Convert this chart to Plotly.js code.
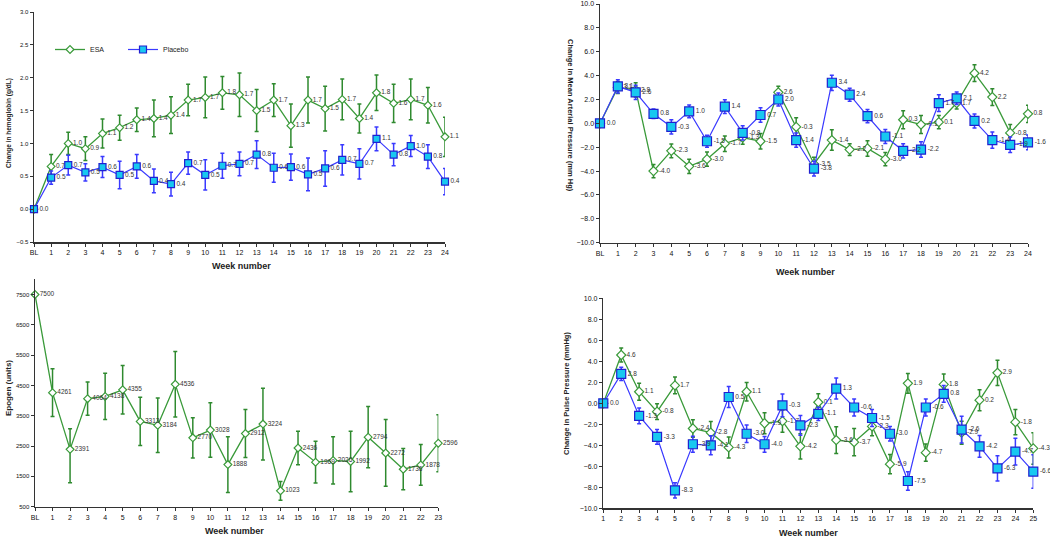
<!DOCTYPE html>
<html>
<head>
<meta charset="utf-8">
<script src="https://cdn.plot.ly/plotly-3.0.1.min.js"></script>
<style>html,body{margin:0;padding:0;background:#fff;}#chart{width:1050px;height:538px;}</style>
</head>
<body>
<div id="chart"></div>
<script>
// ---------- Hemoglobin panel ----------
const hbWeeks = [0,1,2,3,4,5,6,7,8,9,10,11,12,13,14,15,16,17,18,19,20,21,22,23,24];
const hbTickText = ['BL','1','2','3','4','5','6','7','8','9','10','11','12','13','14','15','16','17','18','19','20','21','22','23','24'];
const hbEsa = [0.00,0.65,1.00,0.92,1.15,1.24,1.36,1.38,1.43,1.66,1.70,1.77,1.74,1.50,1.66,1.27,1.66,1.53,1.67,1.38,1.77,1.61,1.67,1.58,1.10];
const hbEsaErr = [0,0.18,0.17,0.18,0.22,0.19,0.18,0.28,0.28,0.24,0.31,0.25,0.33,0.32,0.25,0.33,0.35,0.34,0.31,0.22,0.27,0.29,0.31,0.27,0.30];
const hbEsaLbl = ['','0.7','1.0','0.9','1.1','1.2','1.4','1.4','1.4','1.7','1.7','1.8','1.7','1.5','1.7','1.3','1.7','1.5','1.7','1.4','1.8','1.6','1.7','1.6','1.1'];
const hbPla = [0.00,0.48,0.67,0.56,0.64,0.52,0.65,0.43,0.38,0.70,0.52,0.66,0.69,0.83,0.63,0.64,0.53,0.62,0.75,0.69,1.07,0.83,0.96,0.80,0.42];
const hbPlaErr = [0,0.10,0.15,0.13,0.16,0.21,0.18,0.18,0.18,0.17,0.23,0.19,0.18,0.21,0.22,0.20,0.25,0.27,0.23,0.23,0.18,0.17,0.16,0.18,0.20];
const hbPlaLbl = ['0.0','0.5','0.7','0.5','0.6','0.5','0.6','0.4','0.4','0.7','0.5','0.7','0.7','0.8','0.6','0.6','0.5','0.6','0.7','0.7','1.1','0.8','1.0','0.8','0.4'];

// ---------- Mean arterial pressure panel ----------
const mapWeeks = [0,1,2,3,4,5,6,7,8,9,10,11,12,13,14,15,16,17,18,19,20,21,22,23,24];
const mapTickText = ['BL','1','2','3','4','5','6','7','8','9','10','11','12','13','14','15','16','17','18','19','20','21','22','23','24'];
const mapEsa = [0.0,3.0,2.8,-4.0,-2.3,-3.6,-3.0,-1.7,-1.2,-1.5,2.6,-0.3,-3.4,-1.4,-2.2,-2.1,-3.0,0.3,-0.1,0.1,1.7,4.2,2.2,-0.8,0.8];
const mapEsaErr = [0,0.5,0.6,0.55,0.58,0.6,0.6,0.65,0.55,0.65,0.5,0.76,0.55,0.86,0.5,0.65,0.55,0.75,0.76,0.55,0.5,0.7,0.7,0.7,0.72];
const mapEsaLbl = ['','3.1','2.8','-4.0','-2.3','-3.6','-3.0','-1.7','-1.3','-1.5','2.6','-0.3','-3.5','-1.4','-2.2','-2.1','-3.0','0.3','-0.1','0.1','1.7','4.2','2.2','-0.8','0.8'];
const mapPla = [0.0,3.1,2.6,0.8,-0.3,1.0,-1.5,1.4,-0.8,0.7,2.0,-1.4,-3.8,3.4,2.4,0.6,-1.1,-2.3,-2.2,1.7,2.1,0.2,-1.4,-1.8,-1.6];
const mapPlaErr = [0,0.55,0.6,0.4,0.6,0.53,0.5,0.57,0.6,0.6,0.55,0.6,0.62,0.64,0.55,0.55,0.58,0.6,0.65,0.7,0.53,0.58,0.68,0.65,0.62];
const mapPlaLbl = ['0.0','3.1','2.6','0.8','-0.3','1.0','-1.5','1.4','-0.8','0.7','2.0','-1.4','-3.8','3.4','2.4','0.6','-1.1','-2.2','-2.2','1.7','2.1','0.2','-1.4','-1.9','-1.6'];

// ---------- Epogen panel ----------
const epoWeeks = [0,1,2,3,4,5,6,7,8,9,10,11,12,13,14,15,16,17,18,19,20,21,22,23];
const epoTickText = ['BL','1','2','3','4','5','6','7','8','9','10','11','12','13','14','15','16','17','18','19','20','21','22','23'];
const epoVals = [7500,4261,2391,4064,4138,4355,3313,3184,4536,2770,3028,1888,2912,3224,1023,2436,1969,2026,1992,2794,2272,1736,1878,2596];
const epoErrUp = [0,790,680,550,765,800,795,900,1080,660,900,920,790,1185,310,550,690,780,1000,1010,1100,680,670,940];
const epoErrDown = [0,790,1100,550,765,800,795,900,1080,660,900,920,790,1185,310,550,690,780,1000,1010,1100,680,670,940];
const epoLbl = ['7500','4261','2391','4064','4138','4355','3313','3184','4536','2770','3028','1888','2912','3224','1023','2436','1969','2026','1992','2794','2272','1736','1878','2596'];

// ---------- Pulse pressure panel ----------
const ppWeeks = [1,2,3,4,5,6,7,8,9,10,11,12,13,14,15,16,17,18,19,20,21,22,23,24,25];
const ppTickText = ['1','2','3','4','5','6','7','8','9','10','11','12','13','14','15','16','17','18','19','20','21','22','23','24','25'];
const ppEsa = [0.0,4.6,1.1,-0.8,1.7,-2.4,-2.8,-4.2,1.1,-1.9,-1.7,-4.1,0.1,-3.5,-3.7,-2.2,-5.8,1.9,-4.7,1.8,-2.8,0.3,2.9,-1.8,-4.3];
const ppEsaErr = [0,0.67,0.8,0.75,0.8,0.83,1.06,1.0,0.87,1.0,1.06,1.2,0.8,1.27,1.3,0.9,0.92,0.95,0.83,1.0,1.1,1.0,1.2,1.2,1.5];
const ppEsaLbl = ['','4.6','1.1','-0.8','1.7','-2.4','-2.8','-4.3','1.1','-1.9','-1.7','-4.2','0.1','-3.6','-3.7','-2.3','-5.9','1.9','-4.7','1.8','-2.9','0.2','2.9','-1.8','-4.3'];
const ppPla = [0.0,2.8,-1.2,-3.2,-8.3,-3.9,-4.0,0.6,-2.9,-3.9,-0.2,-2.1,-1.0,1.4,-0.4,-1.4,-2.9,-7.4,-0.4,0.9,-2.5,-4.1,-6.2,-4.6,-6.5];
const ppPlaErr = [0,0.64,0.75,0.7,0.73,0.76,0.9,1.0,0.84,0.75,1.08,0.95,0.63,1.0,0.8,0.8,0.7,0.87,0.8,0.8,1.27,1.03,1.2,1.27,1.6];
const ppPlaLbl = ['0.0','2.8','-1.3','-3.3','-8.3','-3.9','-4.1','0.5','-3.0','-4.0','-0.3','-2.3','-1.1','1.3','-0.6','-1.5','-3.0','-7.5','-0.6','0.8','-2.6','-4.2','-6.3','-4.7','-6.6'];

// ---------- styles ----------
const GREEN = '#3a9a3a';
const GREEN_ERR = '#2f8a2f';
const BLUE = '#3a3aff';
const CYAN = '#18c8f0';
const FONT = 'Liberation Sans, Arial, sans-serif';
const lblFont = {family: FONT, size: 6.5, color: '#333'};

function esaTrace(x, y, err, lbl, xa, ya, size, showleg, errDown) {
  const e = {type: 'data', array: err, color: GREEN_ERR, thickness: 1.5, width: 2, visible: true};
  if (errDown) { e.symmetric = false; e.arrayminus = errDown; }
  return {
    x: x, y: y, type: 'scatter', mode: 'lines+markers+text', name: 'ESA',
    xaxis: xa, yaxis: ya, showlegend: showleg, cliponaxis: false,
    line: {color: GREEN, width: 1.3},
    marker: {symbol: 'diamond', size: size, color: '#ffffff', line: {color: GREEN, width: 1.2}},
    error_y: e,
    text: lbl, textposition: 'middle right', textfont: lblFont, hoverinfo: 'skip'
  };
}
function plaTrace(x, y, err, lbl, xa, ya, size, showleg) {
  return {
    x: x, y: y, type: 'scatter', mode: 'lines+markers+text', name: 'Placebo',
    xaxis: xa, yaxis: ya, showlegend: showleg, cliponaxis: false,
    line: {color: BLUE, width: 1.2},
    marker: {symbol: 'square', size: size, color: CYAN, line: {color: '#2020d0', width: 1.2}},
    error_y: {type: 'data', array: err, color: BLUE, thickness: 1.5, width: 2, visible: true},
    text: lbl, textposition: 'middle right', textfont: lblFont, hoverinfo: 'skip'
  };
}

const data = [
  esaTrace(hbWeeks, hbEsa, hbEsaErr, hbEsaLbl, 'x', 'y', 6, true),
  plaTrace(hbWeeks, hbPla, hbPlaErr, hbPlaLbl, 'x', 'y', 7, true),
  esaTrace(mapWeeks, mapEsa, mapEsaErr, mapEsaLbl, 'x2', 'y2', 7, false),
  plaTrace(mapWeeks, mapPla, mapPlaErr, mapPlaLbl, 'x2', 'y2', 9, false),
  esaTrace(epoWeeks, epoVals, epoErrUp, epoLbl, 'x3', 'y3', 6, false, epoErrDown),
  esaTrace(ppWeeks, ppEsa, ppEsaErr, ppEsaLbl, 'x4', 'y4', 7, false),
  plaTrace(ppWeeks, ppPla, ppPlaErr, ppPlaLbl, 'x4', 'y4', 9, false)
];

const W = 1050, H = 538;
const xd = (a, b) => [a / W, b / W];
const yd = (top, bot) => [1 - bot / H, 1 - top / H];

function axBase(extra) {
  return Object.assign({
    showline: true, linecolor: '#333', linewidth: 1.5, ticks: 'outside', ticklen: 3,
    tickwidth: 1, tickcolor: '#333', showgrid: false, zeroline: false,
    tickfont: {family: FONT, size: 7, color: '#111'}, fixedrange: true
  }, extra);
}

const annFont = (sz) => ({family: FONT, size: sz, color: '#222'});

const layout = {
  width: W, height: H,
  margin: {l: 0, r: 0, t: 0, b: 0},
  paper_bgcolor: '#ffffff', plot_bgcolor: '#ffffff',
  font: {family: FONT},
  showlegend: true,
  legend: {orientation: 'h', x: 50 / W, y: 1 - 35 / H, xanchor: 'left', yanchor: 'top',
           font: {family: FONT, size: 7, color: '#222'}, bgcolor: 'rgba(0,0,0,0)',
           entrywidth: 28, entrywidthmode: 'pixels', itemwidth: 30},
  xaxis: axBase({domain: xd(34, 445), range: [0, 24], tickmode: 'array', tickvals: hbWeeks, ticktext: hbTickText, anchor: 'y'}),
  yaxis: axBase({domain: yd(12, 242), range: [-0.5, 3.0], dtick: 0.5, tick0: 0, tickformat: '.1f', anchor: 'x', tickfont: {family: FONT, size: 6, color: '#111'}}),
  xaxis2: axBase({domain: xd(600, 1028), range: [0, 24], tickmode: 'array', tickvals: mapWeeks, ticktext: mapTickText, anchor: 'y2'}),
  yaxis2: axBase({domain: yd(4, 242.7), range: [-10, 10], dtick: 2, tick0: 0, tickformat: '.1f', anchor: 'x2'}),
  xaxis3: axBase({domain: xd(35, 438.3), range: [0, 23], tickmode: 'array', tickvals: epoWeeks, ticktext: epoTickText, anchor: 'y3'}),
  yaxis3: axBase({domain: yd(279.3, 506.7), range: [500, 8000], tickmode: 'array', tickvals: [500,1500,2500,3500,4500,5500,6500,7500], anchor: 'x3', tickfont: {family: FONT, size: 6, color: '#111'}}),
  xaxis4: axBase({domain: xd(603.3, 1033.3), range: [1, 25], tickmode: 'array', tickvals: ppWeeks, ticktext: ppTickText, anchor: 'y4'}),
  yaxis4: axBase({domain: yd(298.3, 508.3), range: [-10, 10], dtick: 2, tick0: 0, tickformat: '.1f', anchor: 'x4'}),
  annotations: [
    {text: '<b>Week number</b>', xref: 'paper', yref: 'paper', x: 241 / W, y: 1 - 266 / H, xanchor: 'center', yanchor: 'middle', showarrow: false, font: annFont(9)},
    {text: '<b>Week number</b>', xref: 'paper', yref: 'paper', x: 805 / W, y: 1 - 272 / H, xanchor: 'center', yanchor: 'middle', showarrow: false, font: annFont(9)},
    {text: '<b>Week number</b>', xref: 'paper', yref: 'paper', x: 234 / W, y: 1 - 531 / H, xanchor: 'center', yanchor: 'middle', showarrow: false, font: annFont(9)},
    {text: '<b>Week number</b>', xref: 'paper', yref: 'paper', x: 808 / W, y: 1 - 533 / H, xanchor: 'center', yanchor: 'middle', showarrow: false, font: annFont(9)},
    {text: '<b>Change in hemoglobin (g/dL)</b>', xref: 'paper', yref: 'paper', x: 9 / W, y: 1 - 123 / H, xanchor: 'center', yanchor: 'middle', textangle: -90, showarrow: false, font: {family: 'Liberation Sans Narrow, ' + FONT, size: 6.5, color: '#222'}},
    {text: '<b>Change in Mean Arterial Pressure (mm Hg)</b>', xref: 'paper', yref: 'paper', x: 570 / W, y: 1 - 115 / H, xanchor: 'center', yanchor: 'middle', textangle: 90, showarrow: false, font: annFont(7.5)},
    {text: '<b>Epogen (units)</b>', xref: 'paper', yref: 'paper', x: 8 / W, y: 1 - 388 / H, xanchor: 'center', yanchor: 'middle', textangle: -90, showarrow: false, font: annFont(8)},
    {text: '<b>Change in Pulse Pressure (mmHg)</b>', xref: 'paper', yref: 'paper', x: 566 / W, y: 1 - 394 / H, xanchor: 'center', yanchor: 'middle', textangle: -90, showarrow: false, font: annFont(7.5)}
  ]
};

Plotly.newPlot('chart', data, layout, {displayModeBar: false, staticPlot: true});
</script>
</body>
</html>
